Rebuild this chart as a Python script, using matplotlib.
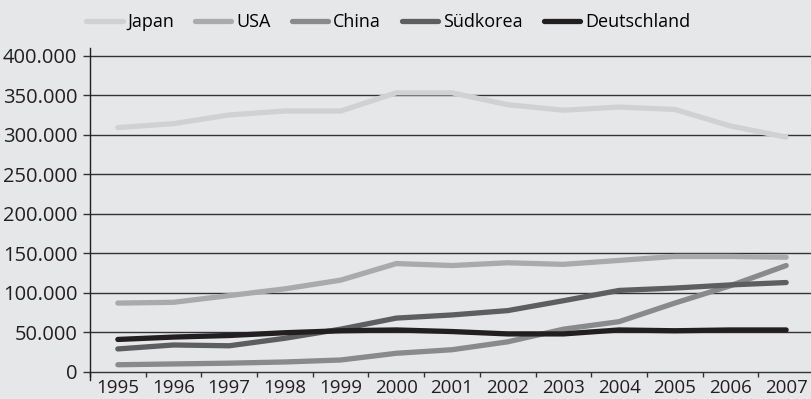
import numpy as np
import matplotlib.pyplot as plt
from matplotlib.ticker import FuncFormatter

years = ['1995', '1996', '1997', '1998', '1999', '2000', '2001', '2002', '2003', '2004', '2005', '2006', '2007']

japan = [309000, 314000, 325000, 330000, 330000, 353000, 353000, 338000, 331000, 335000, 332000, 311000, 297000]
usa = [87000, 88000, 96500, 105000, 116000, 137000, 134500, 138000, 136000, 141000, 146000, 146000, 145000]
china = [9000, 10000, 11000, 12500, 15000, 23500, 28000, 38000, 54000, 63500, 87000, 109000, 134500]
suedkorea = [29000, 34000, 33000, 42500, 54000, 68000, 72000, 77500, 90000, 103000, 106000, 110000, 113000]
deutschland = [41000, 44000, 46000, 49500, 52000, 53000, 51000, 48000, 48000, 53000, 52000, 53000, 53000]

series = [('Japan', japan, '#d0d1d3'),
          ('USA', usa, '#a9aaac'),
          ('China', china, '#898a8c'),
          ('Südkorea', suedkorea, '#5d5e60'),
          ('Deutschland', deutschland, '#231f20')]

bg = '#e6e7e8'
plt.rcParams['font.family'] = ['Open Sans', 'DejaVu Sans']

fig = plt.figure(figsize=(8.12, 3.99), dpi=100, facecolor=bg)
ax = fig.add_axes([90/812, 1 - 380/399, 724/812, (380 - 48)/399])
ax.set_facecolor(bg)

x = np.arange(len(years))
ax.set_xlim(-0.5, len(years) - 0.5)
ax.set_ylim(-10300, 409700)

yticks = np.arange(0, 400001, 50000)
for yv in yticks:
    ax.axhline(yv, color='#333333', lw=1.0, zorder=1)

for name, vals, col in series:
    ax.plot(x, vals, color=col, lw=3.8, label=name, solid_capstyle='round', zorder=3)

# tick marks between the year categories
ax.vlines(np.arange(len(years) + 1) - 0.5, -6000, 0, color='#333333', lw=1.0, clip_on=False)

ax.set_yticks(yticks)
ax.yaxis.set_major_formatter(FuncFormatter(lambda v, p: f'{int(v):,}'.replace(',', '.')))
ax.set_xticks(x)
ax.set_xticklabels(years)
ax.tick_params(axis='x', length=0, pad=-1, labelsize=13.5, colors='#231f20')
ax.tick_params(axis='y', length=5, width=1, color='#333333', pad=4, labelsize=14.5, labelcolor='#231f20')

for s in ['top', 'right', 'bottom']:
    ax.spines[s].set_visible(False)
ax.spines['left'].set_color('#231f20')
ax.spines['left'].set_linewidth(1.0)

fig.legend(loc='upper center', bbox_to_anchor=(0.478, 1.008), ncol=5, frameon=False,
           fontsize=13, handlelength=2.0, handletextpad=0.28, columnspacing=1.16)

fig.savefig('out.png', dpi=100, facecolor=bg)
